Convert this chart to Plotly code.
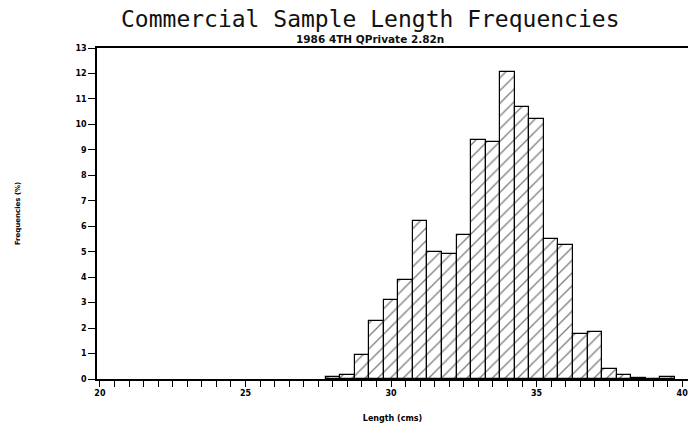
import plotly.graph_objects as go

# Bin centres (cm) and frequencies (%)
lengths = [28.0, 28.5, 29.0, 29.5, 30.0, 30.5, 31.0, 31.5, 32.0, 32.5, 33.0, 33.5,
           34.0, 34.5, 35.0, 35.5, 36.0, 36.5, 37.0, 37.5, 38.0, 38.5, 39.0, 39.5]
freqs = [0.08, 0.15, 0.95, 2.28, 3.1, 3.88, 6.2, 5.0, 4.9, 5.65, 9.37, 9.3,
         12.05, 10.68, 10.2, 5.49, 5.25, 1.76, 1.85, 0.39, 0.15, 0.03, 0.0, 0.07]
x_ticks = [20, 25, 30, 35, 40]
y_ticks = list(range(0, 14))

title = "Commercial Sample Length Frequencies"
subtitle = "1986 4TH QPrivate 2.82n"

fig = go.Figure()
fig.add_trace(go.Bar(
    x=lengths, y=freqs, width=0.5,
    marker=dict(color="white",
                line=dict(color="black", width=1.2),
                pattern=dict(shape="/", fgcolor="black", bgcolor="white",
                             size=9, solidity=0.15)),
    showlegend=False,
))

fig.update_layout(
    width=693, height=428,
    margin=dict(l=97, r=5, t=48, b=49),
    paper_bgcolor="white", plot_bgcolor="white",
    bargap=0,
    font=dict(family="DejaVu Sans", color="black"),
    annotations=[
        dict(text=title, x=0.462, xref="paper", y=1.0, yref="paper",
             yshift=29, xanchor="center", yanchor="middle", showarrow=False,
             font=dict(size=23, family="DejaVu Sans Mono", color="#111")),
        dict(text=subtitle, x=0.462, xref="paper", y=1.0, yref="paper",
             yshift=1, xanchor="center", yanchor="bottom", showarrow=False,
             font=dict(size=10.5, family="DejaVu Sans", color="#111", weight="bold")),
    ],
)

fig.update_xaxes(
    range=[19.9, 40.2], tickvals=x_ticks, ticktext=[str(v) for v in x_ticks],
    ticks="outside", ticklen=6, tickwidth=1.2, tickcolor="black",
    minor=dict(dtick=0.5, tick0=20, ticks="outside", ticklen=6, tickwidth=1.2,
               tickcolor="black", showgrid=False),
    showline=True, linecolor="black", linewidth=1.5, mirror=True,
    showgrid=False, zeroline=False,
    tickfont=dict(size=8, weight="bold"),
    title=dict(text="Length (cms)", font=dict(size=8, weight="bold"), standoff=18),
)
fig.update_yaxes(
    range=[0, 13], tickvals=y_ticks,
    ticks="outside", ticklen=7, tickwidth=1.2, tickcolor="black",
    showline=True, linecolor="black", linewidth=1.5,
    showgrid=False, zeroline=False,
    tickfont=dict(size=8, weight="bold"),
    title=dict(text="Frequencies (%)", font=dict(size=7, weight="bold"), standoff=54),
)

fig.write_html("out.html")
